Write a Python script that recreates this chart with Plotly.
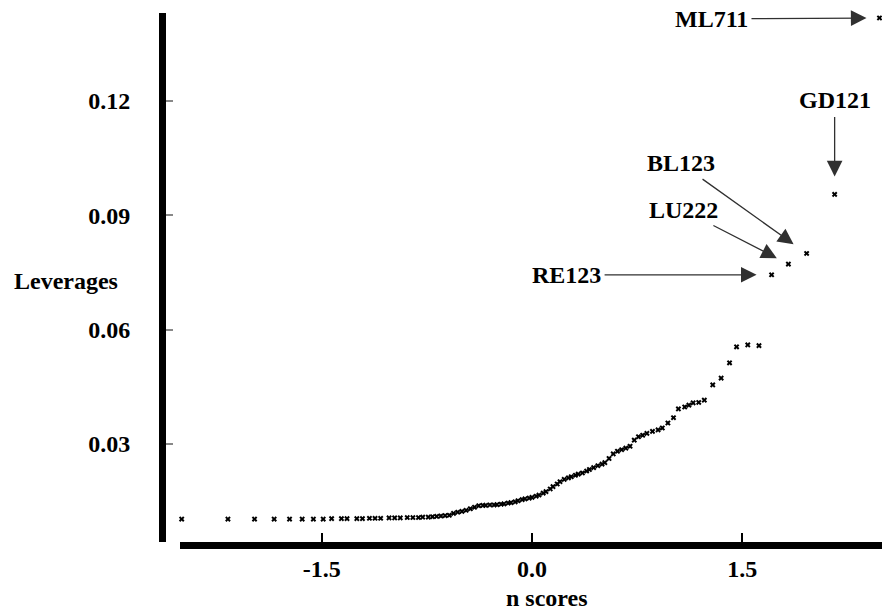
import plotly.graph_objects as go

# ---- data ----
n_scores = [
    -2.50, -2.17, -1.98, -1.84, -1.73, -1.64, -1.56, -1.49, -1.43, -1.36,
    -1.32, -1.25, -1.21, -1.16, -1.12, -1.08, -1.02, -0.98, -0.94, -0.89,
    -0.85, -0.81, -0.78, -0.74, -0.71, -0.68, -0.65, -0.62, -0.59, -0.56,
    -0.53, -0.50, -0.47, -0.44, -0.41, -0.38, -0.35, -0.33, -0.30, -0.27,
    -0.25, -0.22, -0.20, -0.17, -0.15, -0.12, -0.10, -0.07, -0.05, -0.02,
    0.00, 0.03, 0.05, 0.08, 0.10, 0.13, 0.15, 0.18, 0.20, 0.23,
    0.26, 0.28, 0.31, 0.33, 0.36, 0.39, 0.41, 0.44, 0.47, 0.50,
    0.52, 0.55, 0.58, 0.61, 0.64, 0.67, 0.70, 0.73, 0.76, 0.79,
    0.82, 0.86, 0.90, 0.93, 0.97, 1.01, 1.045, 1.09, 1.12, 1.15,
    1.19, 1.23, 1.29, 1.35, 1.41, 1.46, 1.54, 1.62,
    1.71, 1.83, 1.96, 2.16, 2.48,
]
leverages = [
    0.0103, 0.0103, 0.0103, 0.0103, 0.0103, 0.0103, 0.0103, 0.0103, 0.0104, 0.0104,
    0.0104, 0.0104, 0.0104, 0.0105, 0.0105, 0.0105, 0.0106, 0.0106, 0.0106, 0.0107,
    0.0107, 0.0107, 0.0108, 0.0108, 0.0109, 0.0110, 0.0111, 0.0112, 0.0113, 0.0118,
    0.0121, 0.0123, 0.0126, 0.0130, 0.0134, 0.0138, 0.0139, 0.0139, 0.0140, 0.0140,
    0.0141, 0.0142, 0.0143, 0.0145, 0.0146, 0.0148, 0.0151, 0.0154, 0.0156, 0.0158,
    0.0160, 0.0163, 0.0166, 0.0171, 0.0175, 0.0182, 0.0188, 0.0195, 0.0201, 0.0207,
    0.0211, 0.0214, 0.0218, 0.0221, 0.0224, 0.0229, 0.0233, 0.0238, 0.0243, 0.0247,
    0.0251, 0.0262, 0.0274, 0.0281, 0.0285, 0.0289, 0.0294, 0.0310, 0.0319, 0.0323,
    0.0328, 0.0333, 0.0337, 0.0342, 0.0355, 0.0369, 0.0392, 0.0397, 0.0402, 0.0408,
    0.0409, 0.0415, 0.0455, 0.0473, 0.0513, 0.0555, 0.0560, 0.0558,
    0.0744, 0.0772, 0.0800, 0.0955, 0.1418,
]
# labelled observations (index into the arrays above)
label_names = ["RE123", "LU222", "BL123", "GD121", "ML711"]
label_index = [98, 99, 100, 101, 102]

x_ticks = [-1.5, 0.0, 1.5]
x_tick_text = ["-1.5", "0.0", "1.5"]
y_ticks = [0.03, 0.06, 0.09, 0.12]
y_tick_text = ["0.03", "0.06", "0.09", "0.12"]

# ---- styling / layout ----
# The page body keeps its 8px default margin; positions are given in window
# pixels and converted to paper fractions of the figure.
PAGE_W, PAGE_H, OFF = 890, 612, 8
W, H = PAGE_W - OFF, PAGE_H - OFF
VISIBLE_RIGHT = 882  # right edge of the visible window area


def px(x):
    return (x - OFF) / W


def py(y):
    return (OFF + H - y) / H


FONT = dict(family="Liberation Serif", size=24, color="black", weight="bold")

# label text offsets (pixels from the pointed observation) and arrow standoffs
label_offsets = {
    "RE123": (-205, 0, 15),
    "LU222": (-105, -54, 13),
    "BL123": (-126, -90, 16),
    "GD121": (0, -94, 18),
    "ML711": (-168, 1, 13),
}

fig = go.Figure()
fig.add_trace(go.Scatter(
    x=n_scores, y=leverages, mode="markers",
    marker=dict(symbol="x", size=5, color="black", line=dict(width=0)),
    cliponaxis=False, showlegend=False, hoverinfo="x+y",
))

annotations = []
for name, idx in zip(label_names, label_index):
    ax, ay, so = label_offsets[name]
    annotations.append(dict(
        x=n_scores[idx], y=leverages[idx], xref="x", yref="y",
        text=name, showarrow=True, ax=ax, ay=ay,
        arrowhead=2, arrowsize=2.4, arrowwidth=1.3, arrowcolor="#303030",
        standoff=so, startstandoff=2, font=FONT,
    ))

annotations.append(dict(
    x=px(12), y=py(281), xref="paper", yref="paper",
    xanchor="left", yanchor="middle", text="Leverages", showarrow=False, font=FONT,
))
annotations.append(dict(
    x=px(547), y=py(598), xref="paper", yref="paper",
    xanchor="center", yanchor="middle", text="n scores", showarrow=False, font=FONT,
))

fig.update_layout(
    width=W, height=H,
    margin=dict(l=0, r=0, t=0, b=0),
    paper_bgcolor="white", plot_bgcolor="white",
    xaxis=dict(
        domain=[px(180), px(VISIBLE_RIGHT)], range=[-2.512, 2.498],
        anchor="free", position=py(544.5),
        showline=True, linewidth=7, linecolor="black",
        showgrid=False, zeroline=False,
        tickmode="array", tickvals=x_ticks, ticktext=x_tick_text,
        ticks="inside", ticklen=9, tickwidth=2, tickcolor="black",
        tickfont=FONT,
    ),
    yaxis=dict(
        domain=[py(542), py(13)], range=[0.00428, 0.1431],
        anchor="free", position=px(162),
        showline=True, linewidth=7, linecolor="black",
        showgrid=False, zeroline=False,
        tickmode="array", tickvals=y_ticks, ticktext=y_tick_text,
        ticks="inside", ticklen=7, tickwidth=2, tickcolor="#888888",
        tickfont=FONT, ticklabelstandoff=24,
    ),
    annotations=annotations,
)

fig.write_html("out.html")
